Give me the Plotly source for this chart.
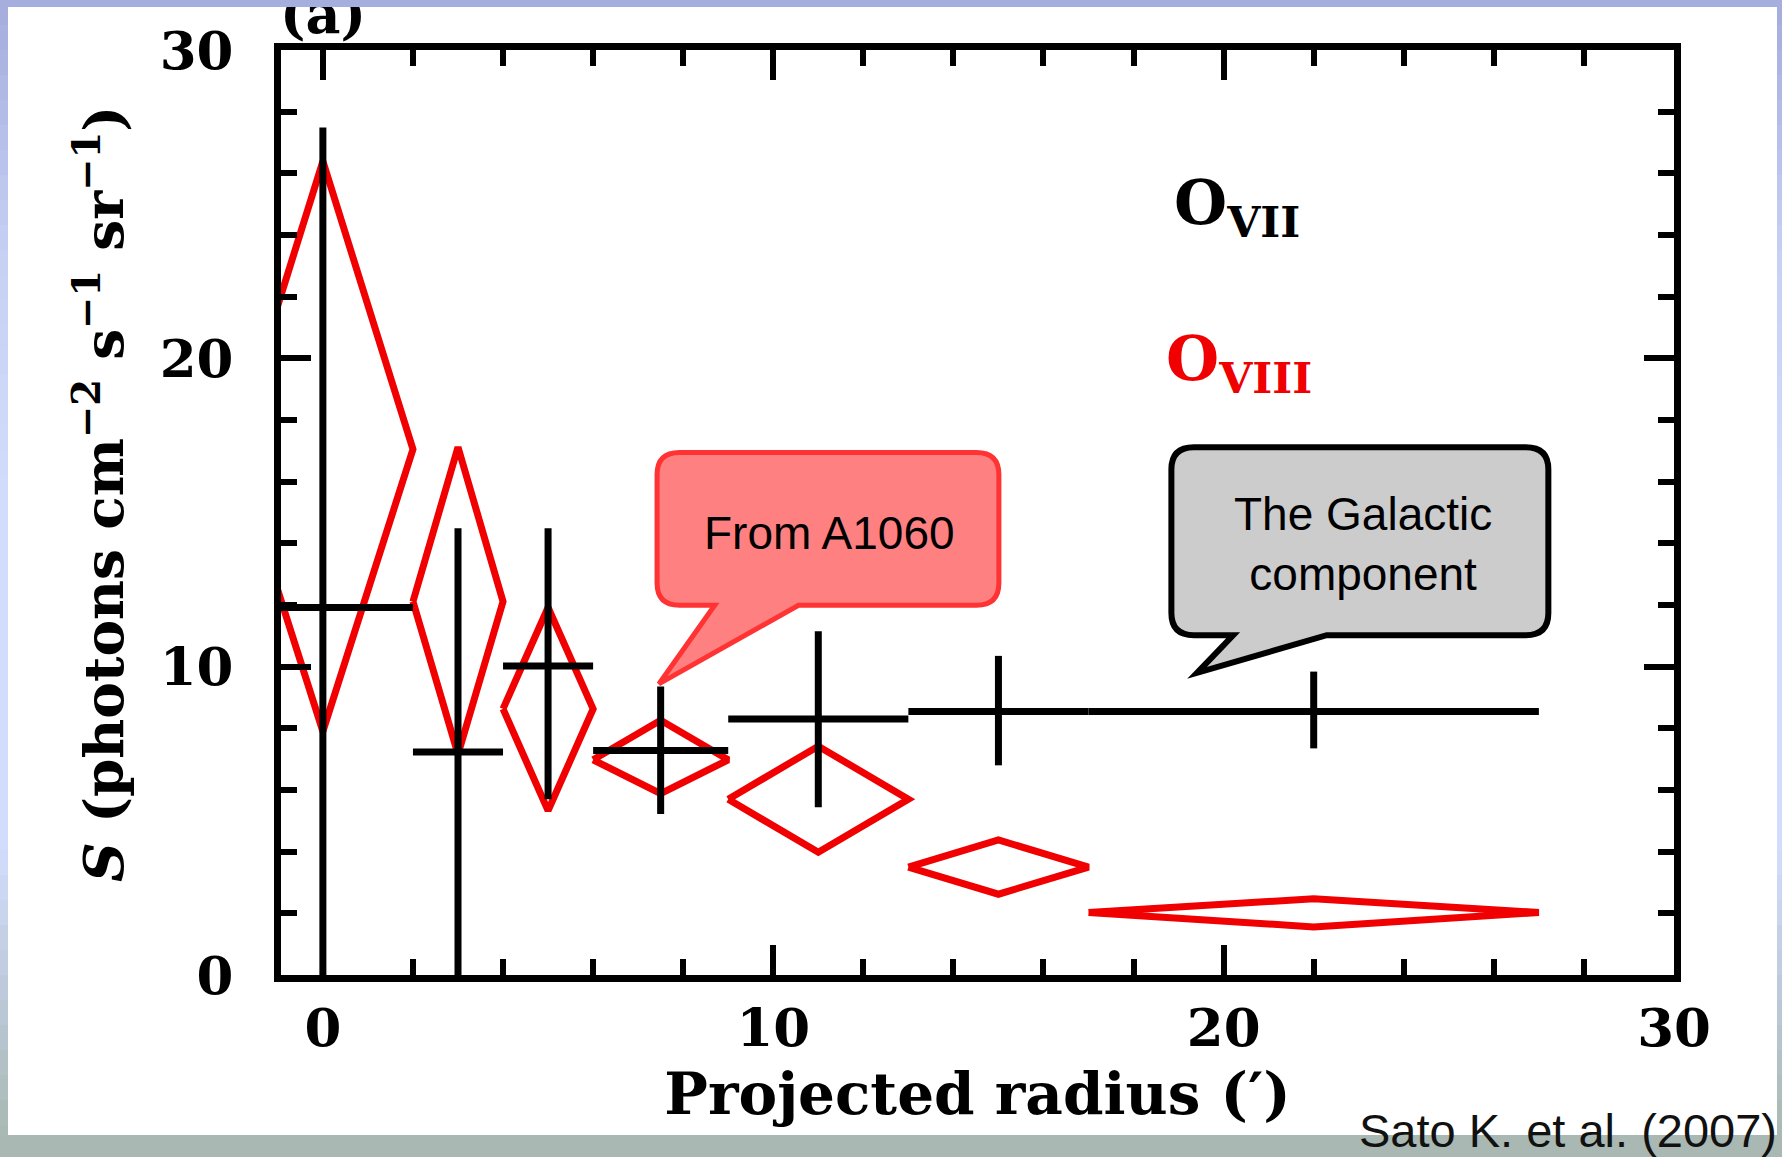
import plotly.graph_objects as go

# ---------------- data ----------------
# O VII (black crosses)
ovii_r = [0, 3, 5, 7.5, 11, 15, 22]
ovii_r_lo = [-2, 2, 4, 6, 9, 13, 17]
ovii_r_hi = [2, 4, 6, 9, 13, 17, 27]
ovii_s = [11.92, 7.23, 10.02, 7.28, 8.30, 8.55, 8.55]
ovii_s_lo = [0.0, 0.0, 5.70, 5.22, 5.44, 6.80, 7.35]
ovii_s_hi = [27.49, 14.49, 14.49, 9.36, 11.15, 10.35, 9.84]

# O VIII (red diamonds)
oviii_r = [0, 3, 5, 7.5, 11, 15, 22]
oviii_r_lo = [-2, 2, 4, 6, 9, 13, 17]
oviii_r_hi = [2, 4, 6, 9, 13, 17, 27]
oviii_s = [17.05, 12.11, 8.63, 6.98, 5.70, 3.50, 2.03]
oviii_s_lo = [7.90, 7.16, 5.33, 5.88, 3.98, 2.62, 1.56]
oviii_s_hi = [26.39, 17.12, 11.92, 8.26, 7.42, 4.38, 2.47]

x_ticks = [0, 10, 20, 30]
y_ticks = [0, 10, 20, 30]

# ---------------- geometry helpers ----------------
W, H = 1782, 1157
L, R, T, B = 281, 1674, 50, 975


def PX(px):
    return (px - L) / (R - L)


def PY(py):
    return (B - py) / (B - T)


RED = "#f00000"
SERIF = "DejaVu Serif"
SANS = "Liberation Sans, Arial"

fig = go.Figure()

# O VIII diamonds
dx, dy = [], []
for r, lo, hi, s, slo, shi in zip(oviii_r, oviii_r_lo, oviii_r_hi, oviii_s, oviii_s_lo, oviii_s_hi):
    dx += [lo, r, hi, r, lo, None]
    dy += [s, shi, s, slo, s, None]
fig.add_trace(go.Scatter(x=dx, y=dy, mode="lines", name="O VIII",
                         line=dict(color=RED, width=7), hoverinfo="skip"))

# O VII crosses
fig.add_trace(go.Scatter(
    x=ovii_r, y=ovii_s, mode="markers", name="O VII",
    marker=dict(size=1, color="black"),
    error_x=dict(type="data", symmetric=False,
                 array=[h - r for h, r in zip(ovii_r_hi, ovii_r)],
                 arrayminus=[r - l for r, l in zip(ovii_r, ovii_r_lo)],
                 thickness=7, width=0, color="black"),
    error_y=dict(type="data", symmetric=False,
                 array=[h - s for h, s in zip(ovii_s_hi, ovii_s)],
                 arrayminus=[s - l for s, l in zip(ovii_s, ovii_s_lo)],
                 thickness=7, width=0, color="black"),
))

shapes = []

# ---- slide background bands ----
def hexrgb(h):
    h = h.lstrip("#")
    return [int(h[i:i + 2], 16) for i in (0, 2, 4)]


stops = [(0, "#a4acdc"), (250, "#c6d0f4"), (500, "#d2dcfc"), (850, "#d2dcfc"),
         (1000, "#bcc8d8"), (1135, "#a8b8b2")]


def col_at(y):
    for (y0, c0), (y1, c1) in zip(stops[:-1], stops[1:]):
        if y0 <= y <= y1:
            t = (y - y0) / (y1 - y0)
            a, b = hexrgb(c0), hexrgb(c1)
            return "rgb(%d,%d,%d)" % tuple(round(a[i] + (b[i] - a[i]) * t) for i in range(3))
    return stops[-1][1]


step = 25
for y0 in range(0, 1135, step):
    y1 = min(y0 + step, 1135)
    c = col_at((y0 + y1) / 2)
    for xa, xb in ((0, 8), (1777, W)):
        shapes.append(dict(type="rect", xref="paper", yref="paper", layer="below",
                           x0=PX(xa), x1=PX(xb), y0=PY(y1 + 0.5), y1=PY(y0),
                           fillcolor=c, line=dict(width=0)))
shapes.append(dict(type="rect", xref="paper", yref="paper", layer="below",
                   x0=PX(0), x1=PX(W), y0=PY(7), y1=PY(0),
                   fillcolor="#a6aede", line=dict(width=0)))
shapes.append(dict(type="rect", xref="paper", yref="paper", layer="below",
                   x0=PX(0), x1=PX(W), y0=PY(H), y1=PY(1135),
                   fillcolor="#a9b8b2", line=dict(width=0)))


# ---- speech-bubble callouts (data coordinates) ----
def bubble(x0, x1, y0, y1, tl, tr, tipx, tipy, rx, ry):
    return (f"M {x0 + rx},{y1} L {x1 - rx},{y1} Q {x1},{y1} {x1},{y1 - ry} "
            f"L {x1},{y0 + ry} Q {x1},{y0} {x1 - rx},{y0} "
            f"L {tr},{y0} L {tipx},{tipy} L {tl},{y0} "
            f"L {x0 + rx},{y0} Q {x0},{y0} {x0},{y0 + ry} "
            f"L {x0},{y1 - ry} Q {x0},{y1} {x0 + rx},{y1} Z")


shapes.append(dict(type="path", xref="x", yref="y", layer="above",
                   path=bubble(7.42, 15.01, 11.99, 16.95, 8.70, 10.56, 7.46, 9.44, 0.5, 0.72),
                   fillcolor="#ff8080", line=dict(color="#ff3333", width=5)))
shapes.append(dict(type="path", xref="x", yref="y", layer="above",
                   path=bubble(18.84, 27.21, 11.02, 17.12, 20.21, 22.29, 19.41, 9.80, 0.5, 0.72),
                   fillcolor="#cccccc", line=dict(color="black", width=6)))

annotations = [
    dict(text="<i>S</i> (photons cm<sup>−2</sup> s<sup>−1</sup> sr<sup>−1</sup>)",
         x=PX(100), y=PY(494), xref="paper", yref="paper", textangle=-90,
         xanchor="center", yanchor="middle", showarrow=False,
         font=dict(family=SERIF, size=55, color="black", weight="bold")),
    dict(text="O<sub>VII</sub>", x=18.86, y=24.9, xref="x", yref="y",
         xanchor="left", yanchor="middle", showarrow=False,
         font=dict(family=SERIF, size=61, color="black", weight="bold")),
    dict(text="O<sub>VIII</sub>", x=18.68, y=19.85, xref="x", yref="y",
         xanchor="left", yanchor="middle", showarrow=False,
         font=dict(family=SERIF, size=61, color=RED, weight="bold")),
    dict(text="From A1060", x=11.25, y=14.34, xref="x", yref="y",
         xanchor="center", yanchor="middle", showarrow=False,
         font=dict(family=SANS, size=46, color="black")),
    dict(text="The Galactic<br>component", x=23.1, y=13.97, xref="x", yref="y",
         xanchor="center", yanchor="middle", showarrow=False,
         font=dict(family=SANS, size=46, color="black")),
    dict(text="Sato K. et al. (2007)", x=PX(1778), y=PY(1158), xref="paper", yref="paper",
         xanchor="right", yanchor="bottom", showarrow=False, borderpad=0,
         font=dict(family=SANS, size=47, color="#111111")),
    dict(text="(a)", x=0, y=PY(14), xref="x", yref="paper",
         xanchor="center", yanchor="middle", showarrow=False,
         font=dict(family=SERIF, size=54, color="black", weight="bold")),
    dict(text=" ", x=PX(W / 2), y=PY(0), xref="paper", yref="paper",
         xanchor="center", yanchor="top", showarrow=False, width=W + 20, height=7,
         bgcolor="#a6aede", borderpad=0, borderwidth=0),
]

axis_common = dict(
    showline=True, linewidth=7, linecolor="black", mirror="ticks",
    ticks="inside", ticklen=30, tickwidth=6, tickcolor="black",
    showgrid=False, zeroline=False,
    tickfont=dict(family=SERIF, size=53, color="black", weight="bold"),
    minor=dict(ticks="inside", ticklen=16, tickwidth=6, tickcolor="black",
               dtick=2, tick0=0, showgrid=False),
)

fig.update_xaxes(range=[-0.93, 30], tickmode="array", tickvals=x_ticks,
                 ticktext=[str(v) for v in x_ticks], ticklabelstandoff=0,
                 title=dict(text="Projected radius (′)", standoff=19,
                            font=dict(family=SERIF, size=58, color="black", weight="bold")),
                 **axis_common)
fig.update_yaxes(range=[0, 30], tickmode="array", tickvals=y_ticks,
                 ticktext=[str(v) for v in y_ticks], ticklabelstandoff=30,
                 **axis_common)

fig.update_layout(
    width=W, height=H,
    margin=dict(l=L, r=W - R, t=T, b=H - B, pad=0),
    paper_bgcolor="white", plot_bgcolor="white",
    showlegend=False,
    shapes=shapes, annotations=annotations,
)

fig.write_html("out.html")
